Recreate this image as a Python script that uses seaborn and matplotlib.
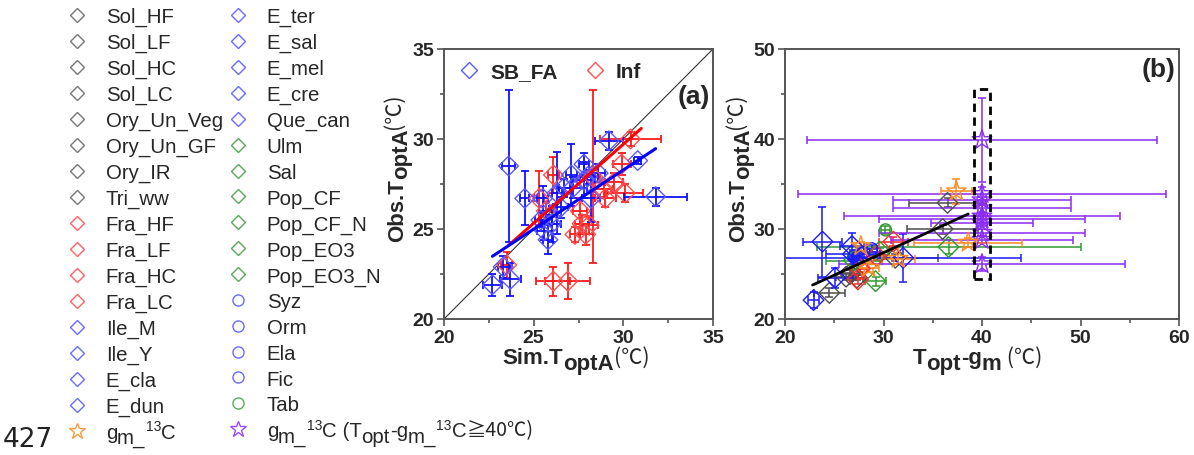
import matplotlib
matplotlib.use('Agg')
import matplotlib.pyplot as plt
from matplotlib.lines import Line2D
from matplotlib.patches import Rectangle
from matplotlib.text import Annotation
from matplotlib.ticker import MultipleLocator
import numpy as np
import seaborn as sns

sns.set_theme(style='ticks')
plt.rcParams['font.family'] = ['Liberation Sans', 'DejaVu Sans', 'Noto Sans CJK SC']
LAT = ['Liberation Sans', 'DejaVu Sans']
CJK = ['Noto Sans CJK SC', 'DejaVu Sans']

# ---- panel (a): simulated vs observed ToptA ----
sb_x = [23.6, 24.5, 25.5, 26.3, 26.7, 27.1, 27.8, 28.2, 28.6, 29.2, 30.8, 31.8,
        22.7, 23.3, 23.7, 25.6, 25.8, 26.0, 25.4, 27.2, 26.5, 27.8, 28.0, 26.0]
sb_y = [28.5, 26.7, 26.7, 27.0, 27.3, 28.0, 28.6, 26.7, 28.1, 29.9, 28.8, 26.8,
        21.9, 22.9, 22.2, 24.9, 24.4, 25.3, 25.5, 27.3, 26.2, 27.7, 27.9, 25.8]
sb_xerr = [0.35, 0.25, 0.3, 0.3, 0.3, 0.3, 0.3, 0.5, 0.4, 0.8, 0.2, 1.75,
           0.55, 0.3, 0.6, 0.4, 0.3, 0.5, 0.3, 0.8, 0.4, 0.6, 0.4, 0.3]
sb_yerr = [4.2, 1.5, 0.7, 2.3, 0.5, 1.7, 0.6, 1.3, 0.5, 0.5, 0.2, 0.5,
           0.6, 0.6, 0.9, 0.5, 0.8, 1.0, 0.4, 0.6, 0.6, 1.0, 0.4, 0.5]

inf_x = [30.4, 29.9, 30.1, 28.3, 26.1, 25.3, 27.7, 27.9, 27.3, 28.1, 26.1, 26.9,
         23.5, 29.0, 27.6, 28.9, 25.7, 29.5]
inf_y = [30.0, 28.6, 27.0, 27.9, 28.0, 26.7, 25.3, 24.7, 24.7, 25.2, 22.1, 22.1,
         23.0, 26.7, 26.0, 27.2, 26.0, 27.6]
inf_xerr = [1.7, 0.5, 1.0, 0.4, 0.3, 0.3, 0.4, 0.4, 0.3, 0.5, 0.95, 1.25,
            0.3, 0.6, 0.4, 0.5, 0.4, 0.5]
inf_yerr = [0.4, 0.6, 0.5, 4.8, 1.0, 1.5, 0.5, 0.6, 0.4, 0.5, 0.8, 1.0,
            0.7, 0.5, 0.7, 0.4, 0.5, 0.5]

# linear fits (slope, intercept, x range)
sb_fit = [0.657, 8.57, 22.7, 31.8]
inf_fit = [0.878, 3.37, 23.6, 31.0]

# ---- panel (b): Topt-gm vs observed ToptA ----
gray_x = [36.5, 36.0, 24.5, 26.2, 26.6, 27.3, 31.2]
gray_y = [32.9, 30.0, 22.9, 24.7, 25.0, 24.6, 26.8]
gray_xerr = [3.9, 3.6, 1.6, 1.0, 0.8, 0.6, 4.3]
gray_yerr = [0.5, 0.5, 0.5, 0.4, 0.4, 0.3, 0.4]

red_x = [31.0, 27.4, 27.6, 29.3]
red_y = [28.6, 24.4, 25.6, 27.0]
red_xerr = [1.5, 0.6, 0.7, 0.8]
red_yerr = [0.5, 0.5, 0.4, 0.4]

blue_x = [23.8, 26.8, 25.1, 22.9, 32.0, 26.9]
blue_y = [28.6, 28.1, 24.6, 22.1, 26.8, 27.2]
blue_xerr = [2.0, 1.2, 1.8, 0.6, 12.0, 2.7]
blue_yerr = [3.9, 1.5, 1.1, 0.9, 2.7, 0.5]

green_x = [36.6, 29.2, 27.0, 29.6]
green_y = [28.0, 24.2, 26.5, 27.5]
green_xerr = [13.4, 1.1, 2.8, 1.0]
green_yerr = [0.8, 0.5, 0.5, 0.4]

bcirc_x = [27.0, 28.8, 28.0, 27.3]
bcirc_y = [27.0, 27.8, 27.4, 26.6]
bcirc_xerr = [0.5, 0.5, 0.6, 0.4]
bcirc_yerr = [0.5, 0.4, 0.5, 0.4]

gcirc_x = [30.2]
gcirc_y = [29.9]
gcirc_xerr = [0.5]
gcirc_yerr = [0.4]

orange_x = [37.4, 38.6, 31.5, 27.7, 28.5]
orange_y = [34.2, 28.5, 26.7, 28.1, 25.7]
orange_xerr = [1.6, 5.5, 1.7, 0.5, 1.0]
orange_yerr = [1.4, 0.5, 0.6, 0.5, 0.5]

purple_x = [40.0, 40.0, 40.0, 40.0, 40.0, 40.0, 40.0, 40.0, 40.0, 40.0]
purple_y = [39.9, 33.9, 33.2, 32.3, 31.4, 31.1, 30.7, 29.6, 28.8, 26.1]
purple_xerr = [17.8, 18.7, 9.0, 9.0, 14.0, 10.5, 5.2, 10.5, 9.2, 14.5]
purple_yerr = [4.65, 0.8, 0.4, 0.4, 0.4, 0.4, 0.4, 0.4, 0.4, 0.8]

all_fit = [0.4994, 12.39, 22.8, 38.6]
dash_box = [39.2, 24.5, 1.6, 21.1]  # x, y, width, height

legend_col1 = ['Sol_HF', 'Sol_LF', 'Sol_HC', 'Sol_LC', 'Ory_Un_Veg', 'Ory_Un_GF', 'Ory_IR',
               'Tri_ww', 'Fra_HF', 'Fra_LF', 'Fra_HC', 'Fra_LC', 'Ile_M', 'Ile_Y', 'E_cla',
               'E_dun', 'g']
legend_col2 = ['E_ter', 'E_sal', 'E_mel', 'E_cre', 'Que_can', 'Ulm', 'Sal', 'Pop_CF',
               'Pop_CF_N', 'Pop_EO3', 'Pop_EO3_N', 'Syz', 'Orm', 'Ela', 'Fic', 'Tab', 'g']
col1_groups = ['gray'] * 8 + ['red'] * 4 + ['blue'] * 4 + ['orange']
col2_groups = ['blue'] * 5 + ['green'] * 6 + ['bcirc'] * 4 + ['gcirc'] + ['purple']

# rich-text pieces: (text, baseline shift in pt, size factor, font)
gm13c = [('m_', -4, 1.0, LAT), ('13', 6, 0.68, LAT), ('C', 0, 1.0, LAT)]
gm13c_tail = gm13c + [(' (T', 0, 1.0, LAT), ('opt', -4, 1.0, LAT), ('-g', 0, 1.0, LAT),
                      ('m_', -4, 1.0, LAT), ('13', 6, 0.68, LAT), ('C', 0, 1.0, LAT),
                      ('≧40℃)', 0, 0.95, CJK)]
lab_optA_x = [('optA', -4.5, 1.0, LAT), ('(℃)', 0, 0.95, CJK)]
lab_optA_y = [('optA', -3.5, 1.0, LAT), ('(℃)', 2.5, 0.95, CJK)]
lab_topt = [('opt', -4.5, 1.0, LAT), ('-g', 0, 1.0, LAT), ('m', -4.5, 1.0, LAT),
            (' (℃)', 0, 0.95, CJK)]

C = {'gray': '#4d4d4d', 'red': '#ff2a2a', 'blue': '#1a1aff', 'green': '#2e9a2e',
     'orange': '#ff8a1f', 'purple': '#8b2cf5'}
LEG_STYLE = {'gray': ('D', '#777777'), 'red': ('D', '#ff6060'), 'blue': ('D', '#6a6aff'),
             'green': ('D', '#5aaa5a'), 'bcirc': ('o', '#6a6aff'), 'gcirc': ('o', '#5aaa5a'),
             'orange': ('*', '#ff9a40'), 'purple': ('*', '#9a4cff')}
SPINE = '#555555'


def draw_group(ax, x, y, xerr, yerr, color, marker, size, mcolor=None, alpha=1.0):
    ax.errorbar(x, y, xerr=xerr, yerr=yerr, fmt='none', ecolor=color, elinewidth=1.3,
                capsize=3, capthick=1.3, alpha=alpha, zorder=2)
    sns.scatterplot(x=x, y=y, marker=marker, s=size, facecolor='none',
                    edgecolor=mcolor or color, linewidth=1.0, ax=ax, zorder=3)


def style_axes(ax, lim, major, minor):
    ax.set_xlim(*lim[0])
    ax.set_ylim(*lim[1])
    ax.xaxis.set_major_locator(MultipleLocator(major[0]))
    ax.yaxis.set_major_locator(MultipleLocator(major[1]))
    ax.xaxis.set_minor_locator(MultipleLocator(minor[0]))
    ax.yaxis.set_minor_locator(MultipleLocator(minor[1]))
    for s in ax.spines.values():
        s.set_visible(True)
        s.set_color(SPINE)
        s.set_linewidth(1.4)
    ax.tick_params(which='both', direction='out', color=SPINE, width=1.2,
                   top=False, right=False)
    ax.tick_params(which='major', length=5, labelsize=14, pad=2)
    ax.tick_params(which='minor', length=3)
    for lab in ax.get_xticklabels() + ax.get_yticklabels():
        lab.set_fontweight('bold')


def chain(first, pieces, fontsize, weight='normal', rotate=False):
    """Append text pieces after `first`, each with its own baseline shift."""
    prev, prev_shift = first, 0.0
    for txt, shift, scale, fam in pieces:
        rel = shift - prev_shift
        if rotate:
            kw = dict(xy=(0, 1), xytext=(-rel, 0), rotation=90)
        else:
            kw = dict(xy=(1, 0), xytext=(0, rel))
        w = 'normal' if fam is CJK else weight
        prev = Annotation(txt, xycoords=prev, textcoords='offset points', ha='left',
                          va='bottom', fontsize=fontsize * scale, fontweight=w, family=fam,
                          annotation_clip=False, **kw)
        prev.set_zorder(6)
        fig.add_artist(prev)
        prev.set_clip_on(False)
        prev_shift = shift


def set_labels(ax, xlab, xpieces, xpos, ylab, ypieces, ypos):
    ax.set_xlabel(xlab, fontsize=16, fontweight='bold', labelpad=1)
    ax.set_ylabel(ylab, fontsize=16, fontweight='bold', labelpad=3.5)
    ax.xaxis.label.set_x(xpos)
    ax.yaxis.label.set_y(ypos)
    chain(ax.xaxis.label, xpieces, 16, 'bold')
    chain(ax.yaxis.label, ypieces, 16, 'bold', rotate=True)


fig = plt.figure(figsize=(11.94, 4.56), dpi=100)
ax_a = fig.add_axes([444 / 1194, 136 / 456, 269 / 1194, 270 / 456])
ax_b = fig.add_axes([785 / 1194, 136 / 456, 394 / 1194, 270 / 456])

# panel (a)
ax_a.plot([20, 35], [20, 35], color='#333333', lw=0.8, zorder=1)
draw_group(ax_a, inf_x, inf_y, inf_xerr, inf_yerr, '#ff1a1a', 'D', 100, '#ff5050')
draw_group(ax_a, sb_x, sb_y, sb_xerr, sb_yerr, '#1010ff', 'D', 100, '#5a5aff')
for fit, col in [(inf_fit, '#ff0000'), (sb_fit, '#0000ff')]:
    fx = np.array(fit[2:])
    sns.lineplot(x=fx, y=fit[0] * fx + fit[1], color=col, lw=2.2, ax=ax_a, zorder=4)
style_axes(ax_a, [(20, 35), (20, 35)], (5, 5), (2.5, 2.5))
set_labels(ax_a, 'Sim.T', lab_optA_x, 0.331, 'Obs.T', lab_optA_y, 0.404)
ax_a.text(0.99, 0.826, '(a)', transform=ax_a.transAxes, ha='right', va='center',
          fontsize=19, fontweight='bold')
ha = [Line2D([], [], marker='D', ls='none', mfc='none', mec='#5a5aff', ms=8, mew=1),
      Line2D([], [], marker='D', ls='none', mfc='none', mec='#ff5050', ms=8, mew=1)]
ax_a.legend(ha, ['SB_FA', 'Inf'], ncol=2, loc='upper left', bbox_to_anchor=(0.055, 0.95),
            frameon=False, prop={'weight': 'bold', 'size': 15}, handlelength=1.0,
            handletextpad=0.5, columnspacing=1.3, borderpad=0, borderaxespad=0)

# panel (b)
groups_b = [
    (gray_x, gray_y, gray_xerr, gray_yerr, C['gray'], 'D', 110),
    (green_x, green_y, green_xerr, green_yerr, C['green'], 'D', 110),
    (red_x, red_y, red_xerr, red_yerr, C['red'], 'D', 110),
    (blue_x, blue_y, blue_xerr, blue_yerr, C['blue'], 'D', 110),
    (bcirc_x, bcirc_y, bcirc_xerr, bcirc_yerr, C['blue'], 'o', 75),
    (gcirc_x, gcirc_y, gcirc_xerr, gcirc_yerr, C['green'], 'o', 75),
    (purple_x, purple_y, purple_xerr, purple_yerr, C['purple'], '*', 220),
    (orange_x, orange_y, orange_xerr, orange_yerr, C['orange'], '*', 220),
]
for gx, gy, gxe, gye, col, mk, sz in groups_b:
    draw_group(ax_b, gx, gy, gxe, gye, col, mk, sz, alpha=0.85)
fx = np.array(all_fit[2:])
sns.lineplot(x=fx, y=all_fit[0] * fx + all_fit[1], color='black', lw=2.0, ax=ax_b, zorder=4)
ax_b.add_patch(Rectangle((dash_box[0], dash_box[1]), dash_box[2], dash_box[3], fill=False,
                         ec='black', lw=2.0, ls=(0, (3, 2)), zorder=5))
style_axes(ax_b, [(20, 60), (20, 50)], (10, 10), (5, 5))
set_labels(ax_b, 'T', lab_topt, 0.342, 'Obs.T', lab_optA_y, 0.404)
ax_b.text(0.99, 0.926, '(b)', transform=ax_b.transAxes, ha='right', va='center',
          fontsize=19, fontweight='bold')

# species legend on the left, two columns
legs = []
for labels, groups, x0 in [(legend_col1, col1_groups, 67 / 1194), (legend_col2, col2_groups, 228 / 1194)]:
    handles = []
    for g in groups:
        mk, mc = LEG_STYLE[g]
        handles.append(Line2D([], [], marker=mk, ls='none', mfc='none', mec=mc,
                              ms=12 if mk == '*' else (7 if mk == 'D' else 8), mew=1))
    legs.append(fig.legend(handles, labels, loc='upper left', bbox_to_anchor=(x0, 1 - 8 / 456),
                           frameon=False, fontsize=14.7, handlelength=1.0, handletextpad=0.9,
                           labelspacing=0.33, borderpad=0, borderaxespad=0))
chain(legs[0].get_texts()[-1], gm13c, 14.7)
chain(legs[1].get_texts()[-1], gm13c_tail, 14.7)

fig.text(28 / 1194, 1 - 440 / 456, '427', ha='center', va='center', fontsize=19,
         family=['DejaVu Sans'], color='#222222')

fig.savefig('out.png', dpi=100)
